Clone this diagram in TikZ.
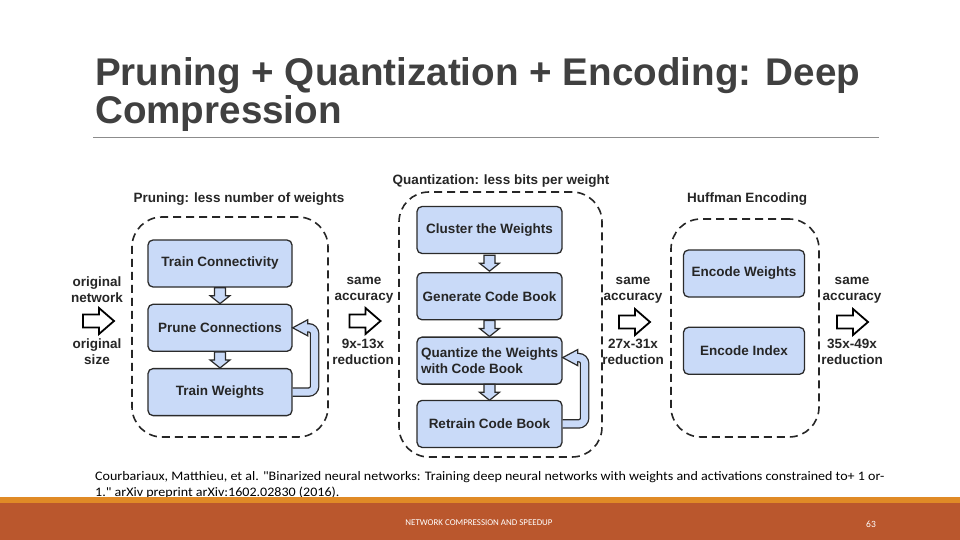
\documentclass[tikz,border=0pt]{standalone}
\usepackage{fontspec}
\setmainfont{Liberation Sans}
\newfontfamily\calfont{Carlito}
\usetikzlibrary{positioning,calc}

\definecolor{boxfill}{HTML}{C9DAF8}
\definecolor{boxline}{HTML}{2B2B2B}
\definecolor{titlegray}{HTML}{404040}
\definecolor{footdark}{HTML}{BA572D}
\definecolor{footlight}{HTML}{E08A26}

\tikzset{
  box/.style={draw=boxline, fill=boxfill, line width=1.3pt, rounded corners=5pt,
    minimum width=144pt, minimum height=47pt, inner sep=2pt,
    font=\fontsize{13.5}{16}\selectfont\bfseries, text=black!85},
  grp/.style={draw=black!85, line width=1.6pt, dash pattern=on 8pt off 5pt, rounded corners=30pt},
  lab/.style={font=\fontsize{13.5}{16}\selectfont\bfseries, align=center, text=black!85, inner sep=0pt},
  rarr/.pic={\draw[line width=1.8pt, fill=white, line join=miter]
    (-15,-6.5) -- (1,-6.5) -- (1,-13) -- (16,0) -- (1,13) -- (1,6.5) -- (-15,6.5) -- cycle;},
  darr/.pic={\draw[line width=1.2pt, draw=boxline, fill=boxfill, line join=miter]
    (-5.5,-8) -- (5.5,-8) -- (5.5,0) -- (10,0) -- (0,8) -- (-10,0) -- (-5.5,0) -- cycle;},
  loopout/.style={line width=9.5pt, draw=boxline, rounded corners=6pt},
  loopin/.style={line width=6.9pt, draw=boxfill, rounded corners=6pt},
  loophead/.style={line width=1.2pt, draw=boxline, fill=boxfill, line join=miter}
}

\begin{document}
\begin{tikzpicture}[x=1pt, y=-1pt, node distance=16pt]
\fill[white] (0,0) rectangle (960,540);
\useasboundingbox (0,0) rectangle (960,540);

% title
\node[anchor=base west, inner sep=0pt, text=titlegray, font=\fontsize{38.6}{44}\selectfont\bfseries] (title1) at (95,86) {Pruning + Quantization + Encoding: Deep};%
\node[anchor=base west, inner sep=0pt, text=titlegray, font=\fontsize{38.6}{44}\selectfont\bfseries] (title2) at (95,124) {Compression};%
\draw[black!45, line width=0.9pt] (93,137) -- (879,137);

% groups
\node[grp, minimum width=196pt, minimum height=220pt] (prunegrp) at (230,327) {};%
\node[grp, minimum width=203pt, minimum height=265pt] (quantgrp) at (500.5,324.5) {};%
\node[grp, minimum width=148pt, minimum height=218pt] (huffgrp) at (745,328) {};%
\node[lab] (prunehd) at (239,199) {Pruning: less number of weights};%
\node[lab] (quanthd) at (501,181) {Quantization: less bits per weight};%
\node[lab] (huffhd) at (747,199) {Huffman Encoding};%

% nodes
\node[box] (tc) at (220,263.5) {Train Connectivity};%
\node[box, below=of tc] (pc) {Prune Connections};%
\node[box, below=of pc] (tw) {Train Weights};%

\node[box, minimum width=145pt] (cw) at (489.5,230) {Cluster the Weights};%
\node[box, minimum width=145pt, below=18pt of cw] (gc) {Generate Code Book};%
\node[box, minimum width=145pt, below=of gc, align=left] (qw) {Quantize the Weights\\with Code Book};%
\node[box, minimum width=145pt, below=15pt of qw] (rc) {Retrain Code Book};%

\node[box, minimum width=121pt] (ew) at (744,273.5) {Encode Weights};%
\node[box, minimum width=121pt, below=29pt of ew] (ei) {Encode Index};%

% side labels
\node[lab] (orignet) at (97,290) {original\\network};%
\node[lab] (origsize) at (97,352) {original\\size};%
\node[lab] (acc1) at (364,290) {same\\accuracy};%
\node[lab] (red1) at (363,352) {9x-13x\\reduction};%
\node[lab] (acc2) at (633,290) {same\\accuracy};%
\node[lab] (red2) at (633,352) {27x-31x\\reduction};%
\node[lab] (acc3) at (852,290) {same\\accuracy};%
\node[lab] (red3) at (852,352) {35x-49x\\reduction};%

% edges
\pic at (98,321) {rarr};
\pic at (364.5,321) {rarr};
\pic at (634,322) {rarr};
\pic at (852,322) {rarr};

\pic at ($(tc.south)!0.5!(pc.north)$) {darr};
\pic at ($(pc.south)!0.5!(tw.north)$) {darr};
\pic at ($(cw.south)!0.5!(gc.north)$) {darr};
\pic at ($(gc.south)!0.5!(qw.north)$) {darr};
\pic at ($(qw.south)!0.5!(rc.north)$) {darr};

% feedback loops
\draw[loopout] (tw.east) -- ++(22,0) |- ($(pc.east)+(14,0)$);
\draw[loophead] (pc.east) -- ++(15,-8) -- ++(0,16) -- cycle;
\draw[loopin] (tw.east) -- ++(22,0) |- ($(pc.east)+(13,0)$);

\draw[loopout] (rc.east) -- ++(22,0) |- ($(qw.east)+(14,-3)$);
\draw[loophead] ($(qw.east)+(0,-3)$) -- ++(15,-8) -- ++(0,16) -- cycle;
\draw[loopin] (rc.east) -- ++(22,0) |- ($(qw.east)+(13,-3)$);

% reference and footer
\node[anchor=base west, inner sep=0pt, font=\calfont\fontsize{13}{15}\selectfont] (cite1) at (95,480) {\scalebox{1.08}[1]{Courbariaux, Matthieu, et al. "Binarized neural networks: Training deep neural networks with weights and activations constrained to+ 1 or-}};%
\node[anchor=base west, inner sep=0pt, font=\calfont\fontsize{13}{15}\selectfont] (cite2) at (95,496) {\scalebox{1.08}[1]{1." arXiv preprint arXiv:1602.02830 (2016).}};%
\fill[footlight] (0,497) rectangle (960,503);
\fill[footdark] (0,503) rectangle (960,540);
\node[text=white, font=\calfont\fontsize{8.9}{10}\selectfont] (foot) at (479,523) {NETWORK COMPRESSION AND SPEEDUP};%
\node[text=white, font=\calfont\fontsize{9.5}{11}\selectfont] (pageno) at (871,524) {63};%
\end{tikzpicture}
\end{document}
